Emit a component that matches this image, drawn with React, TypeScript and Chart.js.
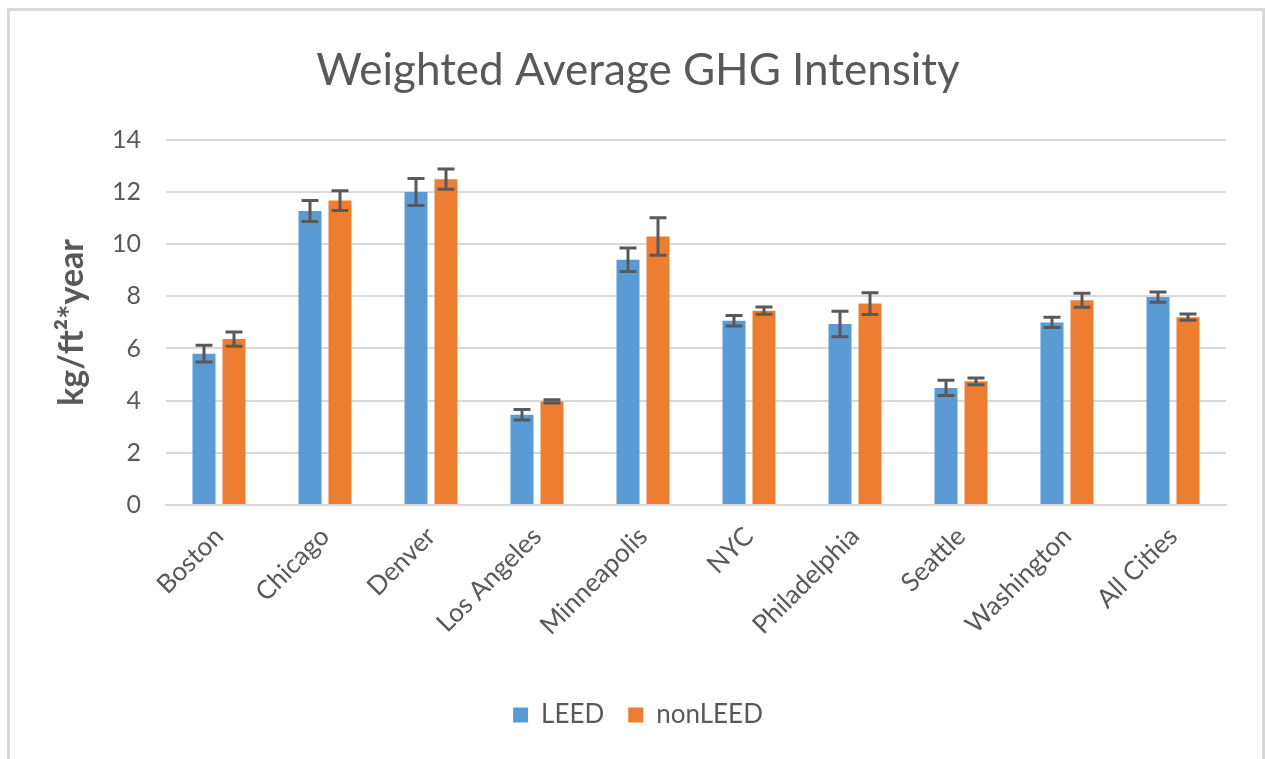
import React, { useEffect, useRef } from "react";
import { Chart, registerables } from "chart.js";

Chart.register(...registerables);

const categories = ["Boston", "Chicago", "Denver", "Los Angeles", "Minneapolis", "NYC", "Philadelphia", "Seattle", "Washington", "All Cities"];
const leed = [5.8, 11.27, 12.0, 3.46, 9.4, 7.06, 6.94, 4.49, 7.0, 7.97];
const leedErr = [0.32, 0.4, 0.52, 0.2, 0.45, 0.2, 0.49, 0.29, 0.2, 0.2];
const nonLeed = [6.36, 11.67, 12.49, 3.97, 10.29, 7.45, 7.72, 4.74, 7.85, 7.2];
const nonLeedErr = [0.27, 0.38, 0.39, 0.06, 0.72, 0.14, 0.42, 0.13, 0.27, 0.12];
const seriesNames = ["LEED", "nonLEED"];
const titleText = "Weighted Average GHG Intensity";
const yTitle = "kg/ft\u00B2*year";

const FONT = "Lato, 'Open Sans', sans-serif";
const GRAY = "#595959";

const errorBarPlugin = {
  id: "errorBars",
  afterDatasetsDraw(chart: any) {
    const ctx = chart.ctx;
    const yScale = chart.scales.y;
    const errs = [leedErr, nonLeedErr];
    ctx.save();
    ctx.strokeStyle = GRAY;
    ctx.lineWidth = 3;
    chart.data.datasets.forEach((ds: any, di: number) => {
      const meta = chart.getDatasetMeta(di);
      meta.data.forEach((el: any, i: number) => {
        const v = ds.data[i];
        const e = errs[di][i];
        const yt = yScale.getPixelForValue(v + e);
        const yb = yScale.getPixelForValue(v - e);
        const x = el.x;
        const cap = 8.5;
        ctx.beginPath();
        ctx.moveTo(x, yt);
        ctx.lineTo(x, yb);
        ctx.moveTo(x - cap, yt);
        ctx.lineTo(x + cap, yt);
        ctx.moveTo(x - cap, yb);
        ctx.lineTo(x + cap, yb);
        ctx.stroke();
      });
    });
    ctx.restore();
  },
};

export default function App() {
  const ref = useRef<HTMLCanvasElement | null>(null);
  useEffect(() => {
    if (!ref.current) return;
    const chart = new Chart(ref.current, {
      type: "bar",
      data: {
        labels: categories,
        datasets: [
          { label: seriesNames[0], data: leed, backgroundColor: "#5B9BD5", categoryPercentage: 0.566, barPercentage: 0.767 },
          { label: seriesNames[1], data: nonLeed, backgroundColor: "#ED7D31", categoryPercentage: 0.566, barPercentage: 0.767 },
        ],
      },
      options: {
        responsive: false,
        animation: false,
        layout: { padding: { left: 50, right: 39, top: 0, bottom: 21 } },
        plugins: {
          title: {
            display: true,
            text: titleText,
            color: GRAY,
            font: { family: FONT, size: 44, weight: "normal", lineHeight: 1.2 },
            padding: { top: 44, bottom: 43 },
          },
          legend: {
            position: "bottom",
            labels: {
              color: GRAY,
              font: { family: FONT, size: 26 },
              boxWidth: 15,
              boxHeight: 15,
              padding: 24,
            },
          },
          tooltip: { enabled: false },
        },
        scales: {
          x: {
            grid: { display: false, drawTicks: false },
            border: { display: true, color: "#d9d9d9", width: 2 },
            ticks: {
              color: GRAY,
              font: { family: FONT, size: 26 },
              minRotation: 45,
              maxRotation: 45,
              padding: 16,
              autoSkip: false,
            },
            afterFit(scale: any) {
              scale.height = 173;
            },
          },
          y: {
            min: 0,
            max: 14,
            ticks: { stepSize: 2, color: GRAY, font: { family: FONT, size: 25 }, padding: 25 },
            grid: { color: "#d9d9d9", lineWidth: 2, drawTicks: false },
            border: { display: false },
            title: {
              display: true,
              text: yTitle,
              color: GRAY,
              font: { family: FONT, size: 34, weight: "bold" },
              padding: { top: 2, bottom: 0 },
            },
            afterFit(scale: any) {
              scale.width = 116;
            },
          },
        },
      },
      plugins: [errorBarPlugin],
    });
    return () => chart.destroy();
  }, []);

  return (
    <div style={{ position: "fixed", left: 0, top: 0, width: 1265, height: 759, background: "#fff" }}>
      <div
        style={{
          position: "absolute",
          left: 7,
          top: 8,
          width: 1258,
          height: 751,
          boxSizing: "border-box",
          border: "3px solid #d9d9d9",
          borderBottom: "none",
        }}
      />
      <canvas ref={ref} width={1265} height={759} style={{ position: "absolute", left: 0, top: 0 }} />
    </div>
  );
}
